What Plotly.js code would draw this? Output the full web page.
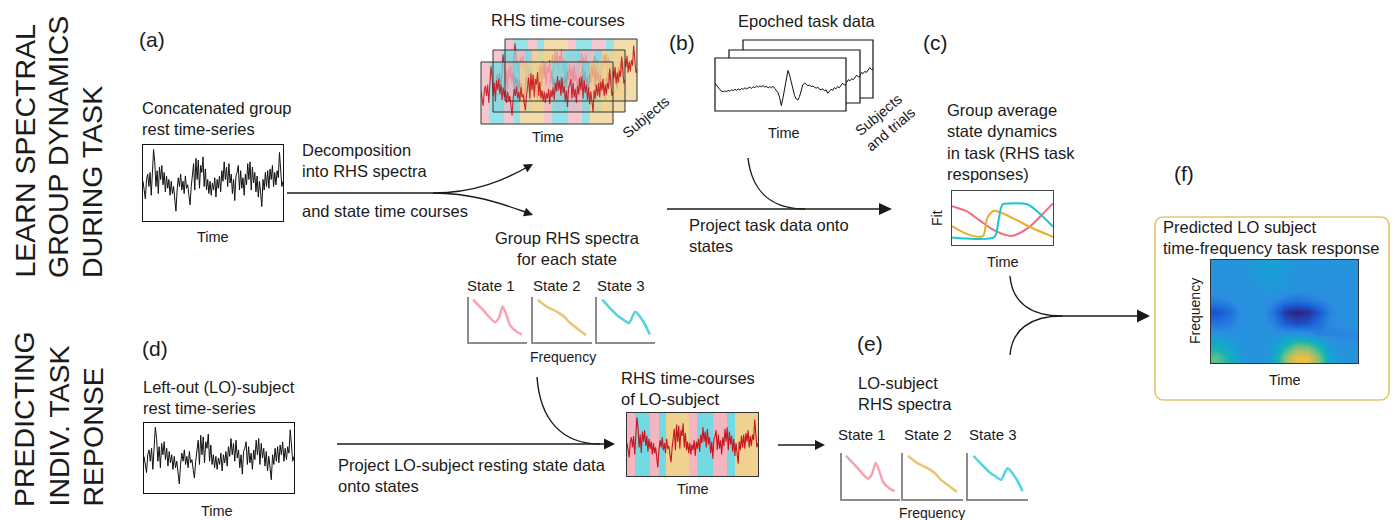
<!DOCTYPE html>
<html><head><meta charset="utf-8">
<script src="https://cdn.plot.ly/plotly-3.0.1.min.js"></script>
<style>html,body{margin:0;padding:0;background:#fff}#chart{width:1395px;height:520px}</style>
</head><body><div id="chart"></div>
<script>
// ================= DATA =================
// resting-state time series (arbitrary units)
const restSeries = [
0.05,-0.2,-0.45,0.1,0.25,-0.1,0.3,-0.35,0.4,0.95,
0.6,-0.1,0.35,-0.3,0.45,0.1,0.5,-0.05,0.3,-0.25,
0.2,-0.15,0.1,-0.35,0.05,-0.3,-0.1,-0.55,-0.8,-0.2,
0.15,-0.1,0.25,-0.2,0.05,-0.3,0.2,-0.15,-0.05,-0.35,
-0.62,-0.1,0.2,0.55,-0.2,0.7,0.1,0.65,-0.15,0.5,
0.3,0.74,-0.1,0.4,-0.2,0.1,-0.3,0.05,-0.35,0.0,
-0.2,0.15,-0.4,0.1,-0.15,0.2,-0.25,0.35,0.05,0.6,
0.1,0.45,-0.1,0.55,0.0,0.25,-0.3,0.1,-0.5,0.2,
0.3,0.5,-0.2,0.35,-0.15,0.15,-0.35,0.25,-0.05,0.55,
0.1,0.6,-0.2,0.45,0.0,0.3,-0.25,0.2,-0.4,0.05,
-0.3,-0.67,0.1,-0.2,0.3,-0.1,0.35,-0.15,0.4,0.1,
0.5,-0.1,0.3,-0.05,0.35,0.15,0.87,0.3,-0.1,0.05
];
// epoched task trial (evoked response)
const taskSeries = [
0.05,-0.05,-0.14,-0.2,-0.25,-0.27,-0.24,-0.27,-0.22,-0.25,
-0.2,-0.23,-0.18,-0.22,-0.17,-0.21,-0.15,-0.19,-0.12,-0.17,
-0.13,-0.1,-0.15,-0.08,-0.12,-0.06,-0.1,-0.05,-0.09,-0.04,
-0.1,-0.06,-0.13,-0.08,-0.12,-0.07,-0.15,-0.22,-0.3,-0.5,
-0.8,-0.5,-0.1,0.3,0.53,0.35,0.1,-0.2,-0.42,-0.55,
-0.58,-0.45,-0.2,0.0,0.05,0.02,-0.05,-0.02,-0.08,-0.06,
-0.1,-0.14,-0.1,-0.18,-0.2,-0.16,-0.24,-0.2,-0.33,-0.25,
-0.18,-0.22,-0.12,-0.16,-0.08,-0.12,-0.05,0.05,-0.02,0.0
];
// state sequence (1 = state 1, 2 = state 2, 3 = state 3) and segment edges (fraction of time)
const stateEdges = [0,0.063,0.177,0.241,0.299,0.476,0.537,0.658,0.767,0.828,1.0];
const stateSeq   = [1,3,1,3,2,1,3,1,3,2];
// RHS spectra for each state (frequency fraction, power fraction)
const spec1Freq = [0.07,0.25,0.45,0.52,0.58,0.64,0.71,0.83,0.91];
const spec1Pow  = [0.94,0.70,0.44,0.55,0.79,0.62,0.37,0.22,0.17];
const spec2Freq = [0.08,0.24,0.41,0.53,0.64,0.79,0.90];
const spec2Pow  = [0.94,0.78,0.67,0.56,0.41,0.26,0.15];
const spec3Freq = [0.09,0.22,0.35,0.45,0.55,0.66,0.80,0.91];
const spec3Pow  = [0.94,0.76,0.59,0.50,0.42,0.67,0.45,0.17];
// group average state dynamics in task (fit over time)
const dyn1Time = [0,0.14,0.27,0.41,0.57,0.62,0.77,0.90,1];
const dyn1Fit  = [0.72,0.63,0.46,0.28,0.17,0.18,0.34,0.58,0.77];
const dyn2Time = [0,0.14,0.27,0.31,0.35,0.41,0.47,0.61,0.80,1];
const dyn2Fit  = [0.35,0.21,0.15,0.17,0.50,0.63,0.61,0.49,0.31,0.15];
const dyn3Time = [0,0.14,0.42,0.46,0.50,0.57,0.75,0.87,1];
const dyn3Fit  = [0.14,0.12,0.15,0.45,0.75,0.77,0.75,0.58,0.34];
// predicted time-frequency response (rows: frequency low->high, cols: time)
const tfTime = [0,1,2,3,4,5,6,7,8,9,10,11,12];
const tfFreq = [0,1,2,3,4,5,6,7,8];
const tfPower = [
[0.62,0.50,0.33,0.28,0.28,0.36,0.70,0.90,0.90,0.70,0.38,0.30,0.28],
[0.45,0.38,0.30,0.27,0.27,0.32,0.50,0.65,0.65,0.50,0.32,0.27,0.27],
[0.28,0.27,0.27,0.27,0.27,0.27,0.28,0.30,0.27,0.22,0.22,0.22,0.23],
[0.18,0.20,0.26,0.27,0.27,0.22,0.12,0.08,0.10,0.16,0.24,0.26,0.27],
[0.10,0.15,0.24,0.27,0.27,0.18,0.04,0.00,0.02,0.10,0.22,0.26,0.27],
[0.22,0.24,0.27,0.27,0.27,0.25,0.20,0.18,0.20,0.23,0.26,0.27,0.27],
[0.27,0.27,0.27,0.28,0.30,0.31,0.29,0.28,0.27,0.27,0.27,0.27,0.27],
[0.27,0.27,0.28,0.30,0.33,0.34,0.31,0.28,0.27,0.27,0.27,0.27,0.27],
[0.27,0.27,0.28,0.31,0.34,0.35,0.32,0.28,0.27,0.27,0.27,0.27,0.27]
];

// ================= DRAWING =================
const W = 1395, H = 520;
const fx = p => p / W, fy = p => 1 - p / H;
const P = (x, y) => fx(x).toFixed(5) + ',' + fy(y).toFixed(5);
const F = 'Liberation Sans, Arial, sans-serif';
const INK = '#1a1a1a';
const PINK = '#f5b5c0', YEL = '#efd28f', CYAN = '#72dae2';
const RED = '#c8151f';
const stateScale = [[0,PINK],[0.3333,PINK],[0.3334,YEL],[0.6666,YEL],[0.6667,CYAN],[1,CYAN]];
const parula = [[0,'#2e2384'],[0.125,'#1a5fd8'],[0.25,'#2b8ee0'],[0.375,'#15a4d2'],[0.5,'#18b3b2'],[0.625,'#5cbf8a'],[0.75,'#a8bf68'],[0.875,'#e4bb48'],[1,'#f6e020']];

const layout = {width:W, height:H, margin:{l:0,r:0,t:0,b:0}, paper_bgcolor:'#fff',
  plot_bgcolor:'rgba(0,0,0,0)', showlegend:false, shapes:[], annotations:[]};
const data = [];
let axN = 0;
const frame = (c, w) => ({x:{showline:true,mirror:true,linecolor:c,linewidth:w}, y:{showline:true,mirror:true,linecolor:c,linewidth:w}});
const lAxis = {x:{showline:true,linecolor:'#8c8c8c',linewidth:1.6}, y:{showline:true,linecolor:'#8c8c8c',linewidth:1.6}};
function addAxes(x0, x1, y0, y1, xr, yr, opt) {
  axN++;
  const s = axN === 1 ? '' : String(axN);
  const base = {showgrid:false, zeroline:false, showticklabels:false, ticks:'', fixedrange:true};
  const o = opt || {};
  layout['xaxis' + s] = Object.assign({}, base, {domain:[fx(x0), fx(x1)], anchor:'y' + s}, xr ? {range:xr} : {}, o.x || {});
  layout['yaxis' + s] = Object.assign({}, base, {domain:[fy(y1), fy(y0)], anchor:'x' + s}, yr ? {range:yr} : {}, o.y || {});
  return {xaxis:'x' + s, yaxis:'y' + s};
}
const idx = a => a.map((_, i) => i / (a.length - 1));
const line = (ax, xs, ys, color, width, extra) => data.push(Object.assign({type:'scatter', mode:'lines', x:xs, y:ys,
  line:{color:color, width:width}, hoverinfo:'skip'}, ax, extra || {}));
const bands = (ax, op) => data.push(Object.assign({type:'heatmap', z:[stateSeq], x:stateEdges, y:[-1.1,1.1],
  colorscale:stateScale, zmin:1, zmax:3, showscale:false, opacity:op, hoverinfo:'skip'}, ax));

// (a) group rest time-series
line(addAxes(143,283,145,221,[0,1],[-1.08,1.08],frame('#111',1.2)), idx(restSeries), restSeries, '#111', 1);

// RHS time-course stack (back -> front)
[[505,637,39,101],[493,625,50,112],[481,613,62,124]].forEach(b => {
  const ax = addAxes(b[0],b[1],b[2],b[3],[0,1],[-1.1,1.1]);
  bands(ax, 0.75);
  line(ax, idx(restSeries), restSeries, RED, 1.1, {opacity:0.9});
  layout.shapes.push({type:'rect', xref:'paper', yref:'paper', x0:fx(b[0]), x1:fx(b[1]), y0:fy(b[3]), y1:fy(b[2]),
    line:{color:'#333', width:1}, layer:'above'});
});

// Epoched task data stack: white cards (back -> front)
const cards = [[743,873,40,98],[729,860,50,103],[715,846,58,111]];
cards.forEach(b => layout.shapes.push({type:'rect', xref:'paper', yref:'paper', x0:fx(b[0]), x1:fx(b[1]),
  y0:fy(b[3]), y1:fy(b[2]), fillcolor:'#fff', line:{color:'#111', width:1.2}, layer:'below'}));
line(addAxes(860,873,40,98,[(860-743)/130,1],[-1,1]), idx(taskSeries), taskSeries, '#111', 1);
line(addAxes(846,860,50,103,[(846-729)/131,1],[-1,1]), idx(taskSeries), taskSeries, '#111', 1);
line(addAxes(715,846,58,111,[0,1],[-1,1]), idx(taskSeries), taskSeries, '#111', 1);

// (c) group average state dynamics
const axc = addAxes(952,1053,191,245,[0,1],[0,1],frame('#444',1.3));
line(axc, dyn1Time, dyn1Fit, '#f26b7a', 2, {line:{color:'#f26b7a',width:2,shape:'spline',smoothing:0.8}});
line(axc, dyn2Time, dyn2Fit, '#e8ae2d', 2, {line:{color:'#e8ae2d',width:2,shape:'spline',smoothing:0.8}});
line(axc, dyn3Time, dyn3Fit, '#18c6ce', 2, {line:{color:'#18c6ce',width:2,shape:'spline',smoothing:0.8}});

// spectra panels
function spectra(boxes, y0, y1) {
  const sets = [[spec1Freq,spec1Pow,'#f7a3b0'],[spec2Freq,spec2Pow,'#ecc472'],[spec3Freq,spec3Pow,'#4fd5de']];
  boxes.forEach((b, i) => {
    const ax = addAxes(b[0], b[1], y0, y1, [0,1], [0,1], lAxis);
    line(ax, sets[i][0], sets[i][1], sets[i][2], 2.5, {line:{color:sets[i][2],width:2.5,shape:'spline',smoothing:0.7}});
  });
}
spectra([[469,527],[533,592],[597,655]], 297, 342);

// (d) LO rest time-series
line(addAxes(144,294,423,493,[0,1],[-1.08,1.08],frame('#111',1.2)), idx(restSeries), restSeries, '#111', 1);

// LO RHS time-course
const axlo = addAxes(627,758,413,476,[0,1],[-1.1,1.1],frame('#333',1.2));
bands(axlo, 1);
line(axlo, idx(restSeries), restSeries, RED, 1.1);

// (e) LO spectra
spectra([[842,900],[903,963],[968,1028]], 453, 499);

// (f) predicted time-frequency response
layout.shapes.push((() => {
  const x0=1155,x1=1389,y0=217,y1=400,r=9;
  return {type:'path', xref:'paper', yref:'paper', layer:'below', fillcolor:'#fff', line:{color:'#e8c46c', width:1.6},
    path:`M ${P(x0+r,y0)} L ${P(x1-r,y0)} Q ${P(x1,y0)} ${P(x1,y0+r)} L ${P(x1,y1-r)} Q ${P(x1,y1)} ${P(x1-r,y1)} L ${P(x0+r,y1)} Q ${P(x0,y1)} ${P(x0,y1-r)} L ${P(x0,y0+r)} Q ${P(x0,y0)} ${P(x0+r,y0)} Z`};
})());
const axf = addAxes(1211,1358,260,363,null,null,frame('#333',1.3));
data.push(Object.assign({type:'heatmap', x:tfTime, y:tfFreq, z:tfPower, zmin:0, zmax:1, colorscale:parula,
  zsmooth:'best', showscale:false, hoverinfo:'skip'}, axf));

// ---- arrows ----
const stroke = {color:INK, width:1.4};
const path = d => layout.shapes.push({type:'path', xref:'paper', yref:'paper', path:d, line:stroke, layer:'above'});
const curve = (a,b,c,d) => `M ${P(a[0],a[1])} C ${P(b[0],b[1])} ${P(c[0],c[1])} ${P(d[0],d[1])}`;
const seg = (a,b) => `M ${P(a[0],a[1])} L ${P(b[0],b[1])}`;
function head(tx, ty, dx, dy, len, hw) {
  const n = Math.hypot(dx, dy); dx /= n; dy /= n;
  const bx = tx - dx*len, by = ty - dy*len;
  layout.shapes.push({type:'path', xref:'paper', yref:'paper', layer:'above', fillcolor:INK, line:{width:0},
    path:`M ${P(tx,ty)} L ${P(bx - dy*hw, by + dx*hw)} L ${P(bx + dy*hw, by - dx*hw)} Z`});
}
path(seg([287,193],[433,193]));
path(curve([433,193],[475,193],[505,180],[531,165])); head(533,164,28,-16,9,4.5);
path(curve([433,193],[475,193],[505,205],[531,214])); head(533,215,28,10,9,4.5);
path(curve([748,158],[752,192],[772,209],[805,209]));
path(seg([667,209],[882,209])); head(892,209,1,0,13,6);
path(curve([537,377],[540,420],[562,444],[600,444]));
path(seg([337,444],[607,444])); head(615,444,1,0,11,5.5);
path(seg([778,445],[818,445])); head(825,445,1,0,10,5);
path(curve([1010,276],[1012,302],[1030,316],[1062,316]));
path(curve([1010,355],[1012,330],[1030,316],[1062,316]));
path(seg([1062,316],[1140,316])); head(1150,316,1,0,13,6.5);

// ---- text ----
function T(text, x, y, size, o) {
  o = o || {};
  layout.annotations.push({text:text, x:fx(x), y:fy(y), xref:'paper', yref:'paper', showarrow:false,
    xanchor:o.xa || 'left', yanchor:o.ya || 'middle', align:o.al || (o.xa === 'center' ? 'center' : 'left'),
    textangle:o.ang || 0, font:{family:F, size:size, color:INK}});
}
// row titles
T('LEARN SPECTRAL', 24, 280, 28.5, {xa:'center', ya:'bottom', ang:-90});
T('GROUP DYNAMICS', 58, 280, 28.5, {xa:'center', ya:'bottom', ang:-90});
T('DURING TASK', 92, 280, 28.5, {xa:'center', ya:'bottom', ang:-90});
T('PREDICTING', 24, 509, 28.5, {xa:'center', ya:'bottom', ang:-90});
T('INDIV. TASK', 58, 509, 28.5, {xa:'center', ya:'bottom', ang:-90});
T('REPONSE', 92, 509, 28.5, {xa:'center', ya:'bottom', ang:-90});
// (a)
T('(a)', 137, 40, 21);
T('Concatenated group<br>rest time-series', 140, 119, 16.5);
T('Time', 213, 237, 14.5, {xa:'center'});
T('Decomposition<br>into RHS spectra', 300, 160, 16.5);
T('and state time courses', 300, 211, 16.5);
T('RHS time-courses', 558, 20, 16.5, {xa:'center'});
T('Time', 548, 137, 14.5, {xa:'center'});
T('Subjects', 646, 117, 14.5, {xa:'center', ang:-40});
T('Group RHS spectra<br>for each state', 567, 248, 16.5, {xa:'center'});
T('State 1', 491, 285, 15, {xa:'center'});
T('State 2', 557, 285, 15, {xa:'center'});
T('State 3', 621, 285, 15, {xa:'center'});
T('Frequency', 563, 357, 14, {xa:'center'});
// (b)
T('(b)', 667, 42, 21);
T('Epoched task data', 807, 21, 16.5, {xa:'center'});
T('Time', 784, 133, 14.5, {xa:'center'});
T('Subjects<br>and trials', 884, 122, 14.5, {xa:'center', ang:-40});
T('Project task data onto<br>states', 687, 236, 16.5);
// (c)
T('(c)', 921, 42, 21);
T('Group average<br>state dynamics<br>in task (RHS task<br>responses)', 945, 142, 16.5);
T('Fit', 937, 218, 14, {xa:'center', ang:-90});
T('Time', 1003, 262, 14.5, {xa:'center'});
// (f)
T('(f)', 1172, 174, 21);
T('Predicted LO subject<br>time-frequency task response', 1161, 238, 16.5);
T('Frequency', 1195, 311, 14, {xa:'center', ang:-90});
T('Time', 1285, 380, 14.5, {xa:'center'});
// (d)
T('(d)', 140, 348, 21);
T('Left-out (LO)-subject<br>rest time-series', 141, 397, 16.5);
T('Time', 217, 511, 14.5, {xa:'center'});
T('Project LO-subject resting state data<br>onto states', 336, 475, 16.5);
T('RHS time-courses<br>of LO-subject', 619, 388, 16.5);
T('Time', 693, 489, 14.5, {xa:'center'});
// (e)
T('(e)', 855, 343, 21);
T('LO-subject<br>RHS spectra', 856, 393, 16.5);
T('State 1', 862, 434, 15, {xa:'center'});
T('State 2', 928, 434, 15, {xa:'center'});
T('State 3', 993, 434, 15, {xa:'center'});
T('Frequency', 932, 513, 14, {xa:'center'});

Plotly.newPlot('chart', data, layout, {staticPlot:true, displayModeBar:false});
</script></body></html>
